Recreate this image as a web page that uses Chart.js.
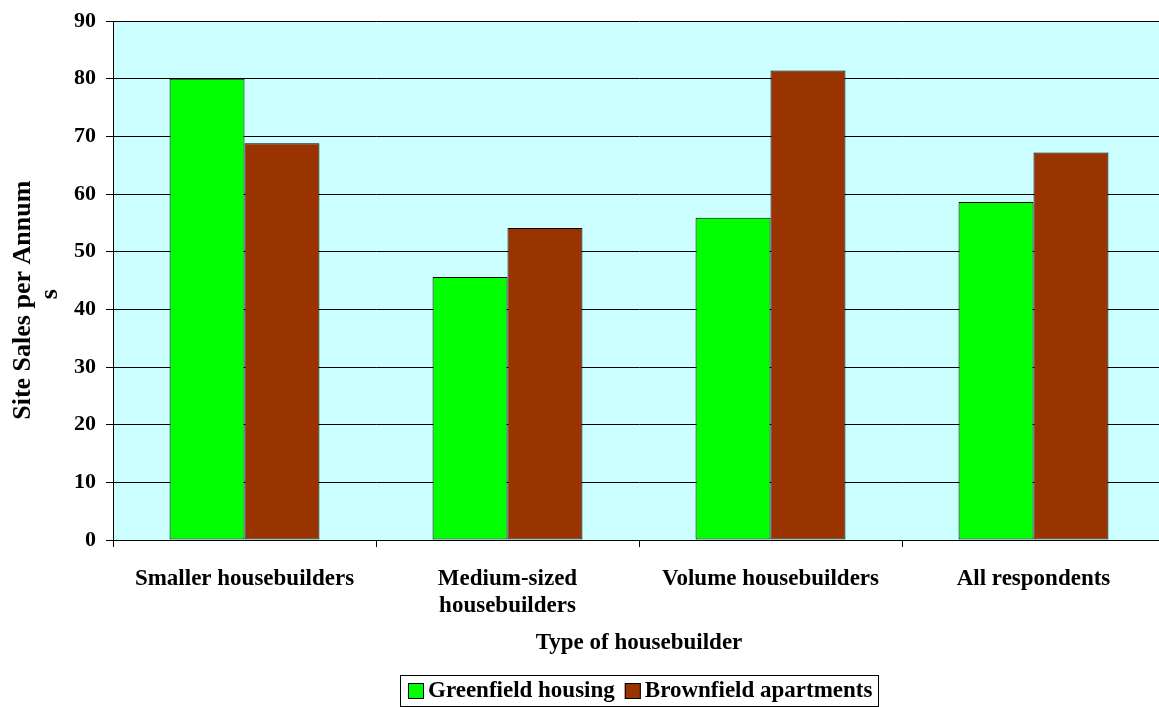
<!DOCTYPE html>
<html>
<head>
<meta charset="utf-8">
<script src="https://cdn.jsdelivr.net/npm/chart.js@4.4.1/dist/chart.umd.min.js"></script>
<style>
  html, body { margin: 0; padding: 0; background: #ffffff; overflow: hidden; }
  #wrap { position: relative; width: 1172px; height: 707px; }
</style>
</head>
<body>
<div id="wrap"><canvas id="chart" width="1172" height="707"></canvas></div>
<script>
// Site sales per annum by type of housebuilder
const categories = [
  'Smaller housebuilders',
  ['Medium-sized', 'housebuilders'],
  'Volume housebuilders',
  'All respondents'
];
const greenfieldHousing = [80.0, 45.6, 55.9, 58.6];
const brownfieldApartments = [68.8, 54.1, 81.4, 67.2];
const seriesNames = ['Greenfield housing', 'Brownfield apartments'];
const seriesColours = ['#00FF00', '#993300'];
const yTitleLines = ['Site Sales per Annum', 's'];
const xTitle = 'Type of housebuilder';
const yTicks = { min: 0, max: 90, step: 10 };

const serif = '"Liberation Serif", "Times New Roman", serif';

// fills the plotting area with the pale cyan background
const plotBackground = {
  id: 'plotBackground',
  beforeDraw(chart) {
    const { ctx, chartArea: a } = chart;
    ctx.save();
    ctx.fillStyle = '#CCFFFF';
    ctx.fillRect(a.left, a.top, a.right - a.left, a.bottom - a.top);
    ctx.restore();
  }
};

// axis titles: rotated two-line value title, category title below the labels
const axisTitles = {
  id: 'axisTitles',
  afterDraw(chart) {
    const { ctx, chartArea: a } = chart;
    const cy = a.top + (a.bottom - a.top) * 0.538;
    ctx.save();
    ctx.fillStyle = '#000000';
    ctx.font = 'bold 26px ' + serif;
    ctx.textAlign = 'center';
    ctx.textBaseline = 'middle';
    yTitleLines.forEach((line, i) => {
      ctx.save();
      ctx.translate(23 + i * 27, cy - i * 6);
      ctx.rotate(-Math.PI / 2);
      ctx.fillText(line, 0, 0);
      ctx.restore();
    });
    ctx.font = 'bold 23px ' + serif;
    ctx.fillText(xTitle, (a.left + a.right) / 2, a.bottom + 103);
    ctx.restore();
  }
};

// framed legend centred under the plotting area
const framedLegend = {
  id: 'framedLegend',
  afterDraw(chart) {
    const { ctx, chartArea: a } = chart;
    const font = 'bold 23px ' + serif;
    const sw = 16, gapText = 4, gapItem = 10, pad = 7;
    ctx.save();
    ctx.font = font;
    const widths = seriesNames.map(n => ctx.measureText(n).width);
    const total = widths.reduce((s, w) => s + w + sw + gapText, 0) + gapItem * (seriesNames.length - 1);
    const boxW = total + pad * 2;
    const boxL = Math.round((a.left + a.right) / 2 - boxW / 2);
    const boxT = 675, boxH = 31;
    const cy = boxT + boxH / 2;
    ctx.strokeStyle = '#000000';
    ctx.lineWidth = 1;
    ctx.strokeRect(boxL + 0.5, boxT + 0.5, Math.round(boxW), boxH);
    let x = boxL + pad + 1;
    ctx.textBaseline = 'middle';
    ctx.textAlign = 'left';
    seriesNames.forEach((n, i) => {
      ctx.fillStyle = seriesColours[i];
      ctx.fillRect(x, Math.round(cy - sw / 2), sw, sw);
      ctx.strokeStyle = '#000000';
      ctx.strokeRect(x + 0.5, Math.round(cy - sw / 2) + 0.5, sw - 1, sw - 1);
      x += sw + gapText;
      ctx.fillStyle = '#000000';
      ctx.fillText(n, x, cy + 1);
      x += widths[i] + gapItem;
    });
    ctx.restore();
  }
};

new Chart(document.getElementById('chart'), {
  type: 'bar',
  data: {
    labels: categories,
    datasets: seriesNames.map((name, i) => ({
      label: name,
      data: i === 0 ? greenfieldHousing : brownfieldApartments,
      backgroundColor: seriesColours[i],
      borderColor: '#000000',
      borderWidth: 1,
      borderSkipped: false,
      barPercentage: 1.0,
      categoryPercentage: 0.57
    }))
  },
  options: {
    responsive: false,
    animation: false,
    layout: { padding: { top: -4, right: 7, left: 64, bottom: 68 } },
    plugins: {
      tooltip: { enabled: false },
      legend: { display: false }
    },
    scales: {
      x: {
        offset: true,
        border: { display: true, color: '#000000', width: 1 },
        grid: {
          offset: true,
          drawOnChartArea: false,
          drawTicks: true,
          tickLength: 7,
          color: '#000000'
        },
        ticks: {
          color: '#000000',
          font: { family: serif, size: 23, weight: 'bold', lineHeight: '27px' },
          padding: 19,
          maxRotation: 0,
          autoSkip: false
        }
      },
      y: {
        min: yTicks.min,
        max: yTicks.max,
        border: { display: true, color: '#000000', width: 1 },
        grid: {
          color: '#000000',
          lineWidth: 1,
          tickLength: 7
        },
        ticks: {
          stepSize: yTicks.step,
          color: '#000000',
          font: { family: serif, size: 22, weight: 'bold', lineHeight: 1 },
          padding: 10
        }
      }
    }
  },
  plugins: [plotBackground, axisTitles, framedLegend]
});
</script>
</body>
</html>
